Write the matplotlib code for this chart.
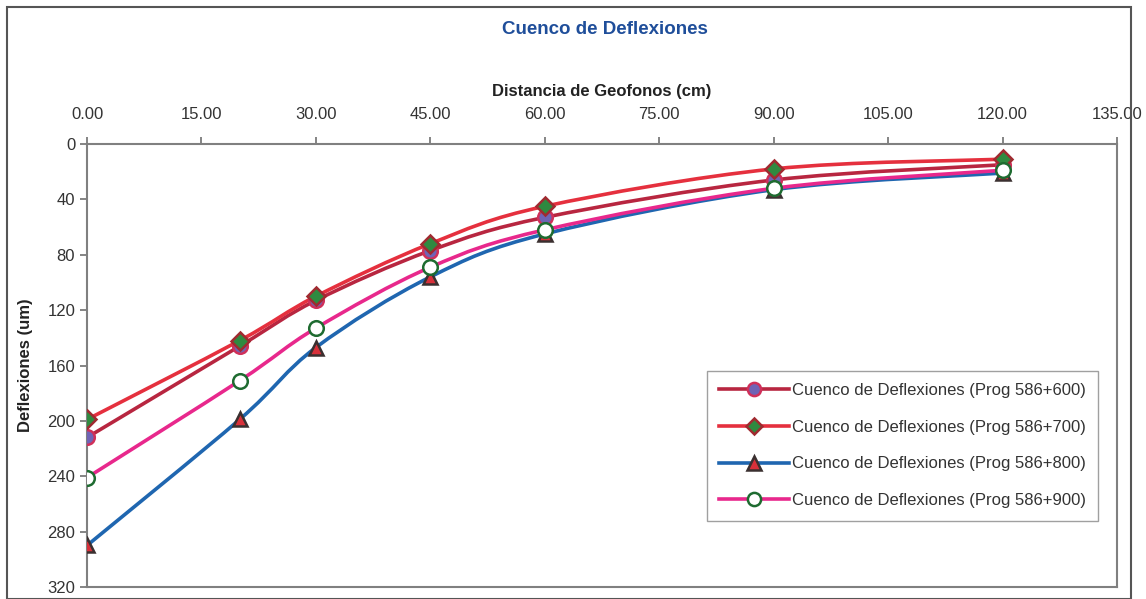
import matplotlib.pyplot as plt
from matplotlib.path import Path
from matplotlib.patches import PathPatch, Rectangle

plt.rcParams['font.family'] = ['Liberation Sans', 'DejaVu Sans']

# distancias de geofonos (cm)
distancias = [0, 20, 30, 45, 60, 90, 120]

# deflexiones (um)
prog_600 = [212, 146, 113, 77, 53, 26, 15]
prog_700 = [199, 142, 110, 72, 45, 18, 11]
prog_800 = [290, 199, 147, 96, 65, 33, 21]
prog_900 = [241, 171, 133, 89, 62, 32, 19]

series = [
    ("Cuenco de Deflexiones (Prog 586+600)", prog_600, "#B82640", "o", "#6F63B5", "#D0305A"),
    ("Cuenco de Deflexiones (Prog 586+700)", prog_700, "#E5303E", "D", "#2F8A40", "#A02A30"),
    ("Cuenco de Deflexiones (Prog 586+800)", prog_800, "#1F66B0", "^", "#D8303A", "#3A3030"),
    ("Cuenco de Deflexiones (Prog 586+900)", prog_900, "#E8288C", "o", "#FFFFFF", "#1E6B30"),
]


def smooth_path(xs, ys):
    # curva tipo Excel: Bezier cubica por Catmull-Rom entre los puntos
    pts = list(zip(xs, ys))
    verts = [pts[0]]
    codes = [Path.MOVETO]
    n = len(pts)
    for i in range(n - 1):
        p0 = pts[i - 1] if i > 0 else pts[i]
        p1 = pts[i]
        p2 = pts[i + 1]
        p3 = pts[i + 2] if i + 2 < n else pts[i + 1]
        c1 = (p1[0] + (p2[0] - p0[0]) / 6, p1[1] + (p2[1] - p0[1]) / 6)
        c2 = (p2[0] - (p3[0] - p1[0]) / 6, p2[1] - (p3[1] - p1[1]) / 6)
        verts += [c1, c2, p2]
        codes += [Path.CURVE4] * 3
    return Path(verts, codes)


fig = plt.figure(figsize=(11.46, 5.99), dpi=100)
ax = fig.add_axes([87 / 1146, 1 - 587 / 599, (1117 - 87) / 1146, (587 - 144) / 599])

for name, vals, col, mk, face, edge in series:
    ms = 10.5 if mk != "D" else 9
    ax.add_patch(PathPatch(smooth_path(distancias, vals), facecolor="none",
                           edgecolor=col, lw=2.6, zorder=2))
    ax.plot(distancias, vals, linestyle="none", marker=mk, ms=ms,
            mfc=face, mec=edge, mew=1.8, zorder=3)
    ax.plot([], [], color=col, lw=2.6, marker=mk, ms=ms - 1,
            mfc=face, mec=edge, mew=1.8, label=name)

ax.set_xlim(0, 135)
ax.set_ylim(320, 0)
ax.set_xticks(range(0, 136, 15))
ax.set_xticklabels([f"{v:.2f}" for v in range(0, 136, 15)])
ax.set_yticks(range(0, 321, 40))
ax.xaxis.tick_top()
ax.xaxis.set_label_position("top")
ax.tick_params(axis="both", colors="#707070", labelcolor="#333333", labelsize=12,
               length=5, width=1.2)
ax.tick_params(axis="x", pad=11)
for s in ax.spines.values():
    s.set_color("#808080")
    s.set_linewidth(1.5)

ax.set_xlabel("Distancia de Geofonos (cm)", fontsize=12, fontweight="bold",
              color="#222222", labelpad=8)
ax.set_ylabel("Deflexiones (um)", fontsize=12, fontweight="bold", color="#222222",
              labelpad=10)
fig.text(0.528, 1 - 29 / 599, "Cuenco de Deflexiones", ha="center", va="center",
         fontsize=13.5, fontweight="bold", color="#1F4E9A")

leg = ax.legend(loc="lower right", bbox_to_anchor=(0.982, 0.15), fontsize=12,
                handlelength=4.2, handletextpad=0.15, labelspacing=1.3,
                frameon=True, fancybox=False, borderpad=0.75, borderaxespad=0)
leg.get_frame().set_edgecolor("#888888")
leg.get_frame().set_linewidth(1.0)
for t in leg.get_texts():
    t.set_color("#333333")

# borde exterior del grafico
fig.patches.append(Rectangle((7 / 1146, 0), 1124 / 1146, 1 - 7 / 599,
                             transform=fig.transFigure, fill=False,
                             edgecolor="#555555", lw=1.5))

fig.savefig("out.png", dpi=100)
